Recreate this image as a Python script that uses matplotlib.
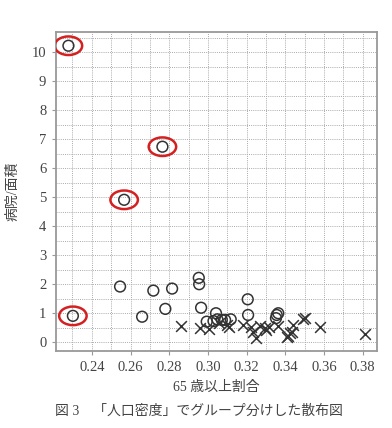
import matplotlib
matplotlib.use("Agg")
import matplotlib.pyplot as plt
from matplotlib.patches import Ellipse
from matplotlib.ticker import MultipleLocator

plt.rcParams['font.family'] = ['Liberation Serif', 'Noto Sans CJK JP', 'DejaVu Sans']

# Group 1 (circles)
g1_x = [0.2279, 0.2765, 0.2567, 0.2302, 0.2546, 0.2660, 0.2718, 0.2780, 0.2815,
        0.2953, 0.2955, 0.2965, 0.2994, 0.3029, 0.3042, 0.3049, 0.3072, 0.3089,
        0.3118, 0.3206, 0.3208, 0.3356, 0.3352, 0.3364]
g1_y = [10.22, 6.74, 4.91, 0.91, 1.92, 0.88, 1.78, 1.15, 1.85,
        2.22, 2.00, 1.19, 0.71, 0.73, 1.00, 0.79, 0.77, 0.77,
        0.79, 1.48, 0.94, 0.94, 0.83, 1.00]

# Group 2 (crosses)
g2_x = [0.2860, 0.2960, 0.3008, 0.3060, 0.3098, 0.3110, 0.3183, 0.3223, 0.3231,
        0.3248, 0.3271, 0.3296, 0.3303, 0.3314, 0.3364, 0.3410, 0.3416, 0.3425,
        0.3433, 0.3442, 0.3490, 0.3502, 0.3578, 0.3813]
g2_y = [0.55, 0.48, 0.44, 0.65, 0.60, 0.54, 0.58, 0.54, 0.37,
        0.16, 0.56, 0.48, 0.42, 0.54, 0.56, 0.17, 0.20, 0.31,
        0.37, 0.58, 0.79, 0.82, 0.54, 0.27]

# Highlighted points (red ellipses)
hl_x = [0.2279, 0.2765, 0.2567, 0.2302]
hl_y = [10.22, 6.74, 4.91, 0.91]

x_label = "65 歳以上割合"
y_label = "病院/面積"
caption = "図 3　「人口密度」でグループ分けした散布図"

fig = plt.figure(figsize=(3.92, 4.28), dpi=100)
ax = fig.add_axes([0.143, 0.18, 0.819, 0.745])

txt = '#444444'
ax.scatter(g1_x, g1_y, marker='o', s=60, facecolors='none', edgecolors='#333333', linewidths=1.1, zorder=3)
ax.scatter(g2_x, g2_y, marker='x', s=60, color='#333333', linewidths=1.1, zorder=3)

# ellipse sizes in data units (approx 27px x 19px)
for x, y in zip(hl_x, hl_y):
    ax.add_patch(Ellipse((x, y), width=0.0142, height=0.64, fill=False,
                         edgecolor='#d42020', linewidth=1.8, zorder=4))

ax.set_xlim(0.2215, 0.3875)
ax.set_ylim(-0.3, 10.69)
ax.xaxis.set_major_locator(MultipleLocator(0.02))
ax.xaxis.set_minor_locator(MultipleLocator(0.01))
ax.yaxis.set_major_locator(MultipleLocator(1))
ax.yaxis.set_minor_locator(MultipleLocator(0.5))
ax.set_xticks([0.24, 0.26, 0.28, 0.30, 0.32, 0.34, 0.36, 0.38])
ax.set_xticklabels(['0.24', '0.26', '0.28', '0.30', '0.32', '0.34', '0.36', '0.38'])

ax.grid(True, which='both', linestyle=(0, (1, 1.2)), color='#aaaaaa', linewidth=0.7)
ax.set_axisbelow(True)
for sp in ax.spines.values():
    sp.set_color('#999999')
    sp.set_linewidth(1.3)
ax.tick_params(which='major', length=3, color='#999999', labelsize=10.5, labelcolor=txt, pad=4)
ax.tick_params(which='minor', length=0)

ax.set_xlabel(x_label, fontsize=10, color=txt, labelpad=5)
ax.set_ylabel(y_label, fontsize=10, color=txt, labelpad=9)

fig.text(0.14, 0.04, caption, fontsize=10, color=txt, ha='left', va='center')

fig.savefig('out.png', dpi=100, facecolor='white')
